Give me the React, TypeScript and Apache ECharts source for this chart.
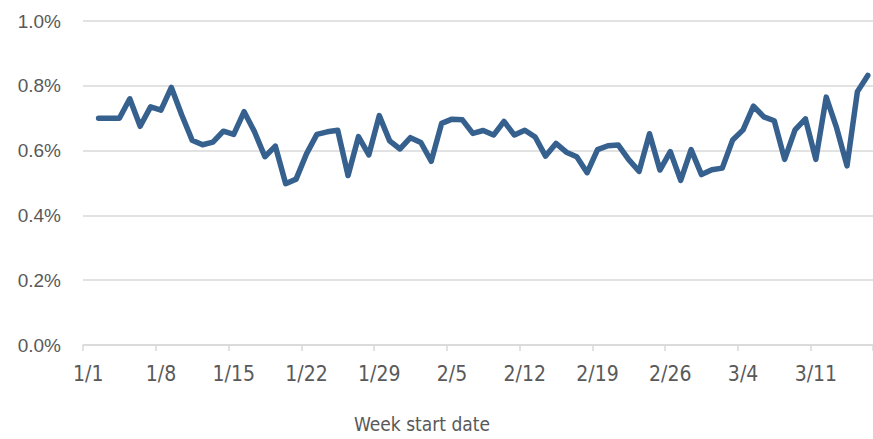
import React, { useEffect, useRef } from "react";
import * as echarts from "echarts";

// Daily categories from 1/1 to 3/17 (2024, leap year)
const startDate = new Date(2024, 0, 1);
const dayCount = 76;
const categories: string[] = [];
for (let i = 0; i < dayCount; i++) {
  const d = new Date(startDate.getFullYear(), startDate.getMonth(), startDate.getDate() + i);
  categories.push(`${d.getMonth() + 1}/${d.getDate()}`);
}

// Rate in percent; first day has no value
const rateValues: (number | null)[] = [
  null, 0.70, 0.70, 0.70, 0.76, 0.675, 0.735, 0.725, 0.795, 0.71,
  0.632, 0.618, 0.626, 0.66, 0.65, 0.72, 0.658, 0.581, 0.614, 0.498,
  0.512, 0.59, 0.65, 0.658, 0.663, 0.523, 0.643, 0.587, 0.708, 0.63,
  0.605, 0.64, 0.625, 0.567, 0.684, 0.697, 0.695, 0.653, 0.662, 0.648,
  0.69, 0.648, 0.663, 0.642, 0.583, 0.622, 0.595, 0.581, 0.532, 0.603,
  0.615, 0.617, 0.572, 0.536, 0.652, 0.54, 0.597, 0.508, 0.603, 0.526,
  0.541, 0.546, 0.633, 0.664, 0.737, 0.704, 0.692, 0.573, 0.664, 0.698,
  0.573, 0.765, 0.67, 0.553, 0.782, 0.832,
];

const yTicks = [0, 0.2, 0.4, 0.6, 0.8, 1.0];
const xAxisTitle = "Week start date";

export default function App() {
  const ref = useRef<HTMLDivElement>(null);
  useEffect(() => {
    if (!ref.current) return;
    const chart = echarts.init(ref.current, undefined, { renderer: "svg" });
    chart.setOption({
      animation: false,
      backgroundColor: "#ffffff",
      grid: { left: 83, right: 0, top: 21, bottom: 94, containLabel: false },
      graphic: [
        {
          type: "text",
          x: 422,
          y: 424,
          style: {
            text: xAxisTitle,
            fill: "#595959",
            fontSize: 19,
            fontFamily: "'DejaVu Sans Condensed', 'Liberation Sans', sans-serif",
            align: "center",
            verticalAlign: "middle",
          },
        },
      ],
      xAxis: {
        type: "category",
        data: categories,
        boundaryGap: true,
        axisLine: { show: true, lineStyle: { color: "#d9d9d9", width: 1.5 } },
        axisTick: { show: true, interval: 6, length: 6, lineStyle: { color: "#d9d9d9", width: 1.5 } },
        axisLabel: {
          interval: 6,
          margin: 18,
          color: "#595959",
          fontSize: 21,
          fontFamily: "'DejaVu Sans Condensed', 'Liberation Sans', sans-serif",
        },
      },
      yAxis: {
        type: "value",
        min: yTicks[0],
        max: yTicks[yTicks.length - 1],
        interval: 0.2,
        axisLine: { show: false },
        axisTick: { show: false },
        axisLabel: {
          margin: 22,
          color: "#595959",
          fontSize: 19,
          fontFamily: "'Liberation Sans', sans-serif",
          formatter: (v: number) => `${v.toFixed(1)}%`,
        },
        splitLine: { show: true, lineStyle: { color: "#d9d9d9", width: 1.5 } },
      },
      series: [
        {
          type: "line",
          data: rateValues,
          showSymbol: false,
          symbol: "none",
          lineStyle: { color: "#36618f", width: 5.5, cap: "round", join: "round" },
          itemStyle: { color: "#36618f" },
        },
      ],
    });
    return () => chart.dispose();
  }, []);
  return (
    <div
      ref={ref}
      style={{ position: "fixed", left: 0, top: 0, width: 873, height: 439 }}
    />
  );
}
